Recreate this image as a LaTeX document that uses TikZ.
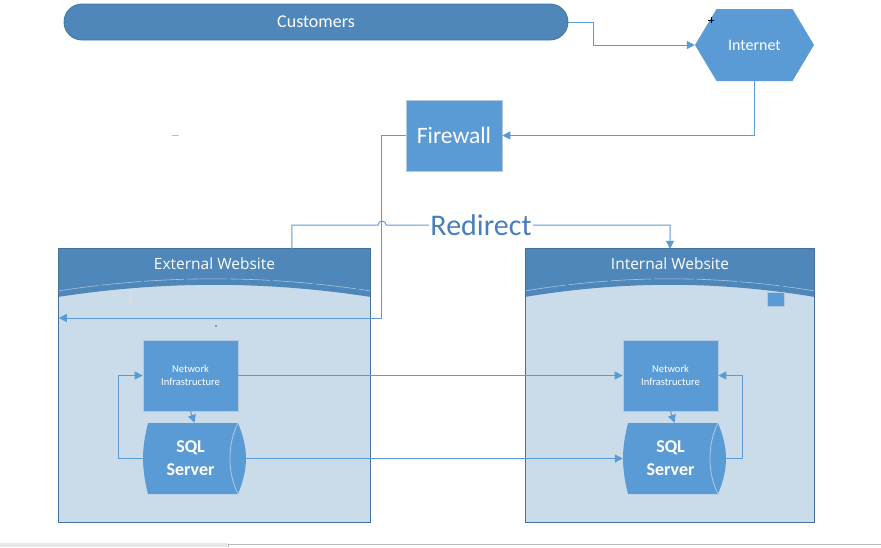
\documentclass[tikz,border=0pt]{standalone}
\usepackage{fontspec}
\setmainfont{Carlito}
\newfontfamily\segoe{Open Sans}
\usetikzlibrary{arrows.meta}
\definecolor{shapeblue}{HTML}{5B9BD5}
\definecolor{headblue}{HTML}{4F87BA}
\definecolor{borderdark}{HTML}{41719C}
\definecolor{bodyblue}{HTML}{CADBEA}
\definecolor{redirblue}{HTML}{4A7EBB}
\definecolor{lightarc}{HTML}{A7C3E0}
\definecolor{boxedge}{HTML}{B4C8DC}
\tikzset{
  conn/.style={draw=shapeblue, line width=1pt, -{Triangle[length=8pt,width=8pt]}},
  bluebox/.style={rectangle, fill=shapeblue, draw=boxedge, line width=0.6pt, text=white, align=center, inner sep=0pt},
  ghost/.style={rectangle, inner sep=0pt, text=white, align=center},
  container/.style={rectangle, fill=bodyblue, inner sep=0pt},
  headtext/.style={text=white, font=\segoe\fontsize{15.5}{18}\selectfont},
  nitext/.style={font=\fontsize{10.5}{13}\selectfont},
  sqltext/.style={font=\bfseries\fontsize{18}{23}\selectfont},
}
\begin{document}
\begin{tikzpicture}[x=1pt,y=-1pt]
\useasboundingbox (0,0) rectangle (881,547);
% bottom strip
\fill[gray!18] (0,543) rectangle (228,547);
\draw[gray!55, line width=1pt] (228,547) -- (228,544) -- (881,544);

% Customers
\node[rectangle, rounded corners=18pt, fill=headblue, draw=borderdark, line width=0.8pt,
      minimum width=504pt, minimum height=36pt, inner sep=0pt, text=white,
      font=\fontsize{18}{21}\selectfont] (cust) at (316,22) {Customers};

% Internet hexagon
\node[ghost, minimum width=119pt, minimum height=72pt] (inet) at (754.5,45) {};
\begin{scope}[shift={(inet.center)}]
  \fill[shapeblue] (-59.5,0) -- (-38,-36) -- (38,-36) -- (59.5,0) -- (38,36) -- (-38,36) -- cycle;
\end{scope}
\node[text=white, font=\fontsize{16}{19}\selectfont] (inettext) at (inet.center) {Internet};

% Firewall
\node[bluebox, minimum width=96pt, minimum height=71pt, font=\fontsize{23.5}{27}\selectfont] (fw) at (454,135.5) {Firewall};

% Containers
\node[container, minimum width=311pt, minimum height=273pt] (ext) at (214.5,385.5) {};
\node[container, minimum width=288pt, minimum height=273pt] (intw) at (670,385.5) {};
\foreach \c/\w in {ext/311, intw/288}{
  \begin{scope}[shift={(\c.north west)}]
    \fill[headblue] (0,0) -- (\w,0) -- (\w,48) .. controls (0.66*\w,32) and (0.34*\w,32) .. (0,48) -- cycle;
    \draw[lightarc, line width=0.6pt, dash pattern=on 40pt off 3pt] (0,42) .. controls (0.34*\w,26) and (0.66*\w,26) .. (\w,42);
  \end{scope}
  \draw[borderdark, line width=1pt] (\c.north west) rectangle (\c.south east);
}
\node[headtext] (exttitle) at (214.5,264) {External Website};
\node[headtext] (inttitle) at (670,264) {Internal Website};
\node[bluebox, minimum width=17pt, minimum height=14pt] (sq) at (775.5,299) {};

% Network infrastructure boxes
\node[bluebox, minimum width=95pt, minimum height=71pt, nitext] (niL) at (190.5,375.5) {Network\\Infrastructure};
\node[bluebox, minimum width=95pt, minimum height=71pt, nitext] (niR) at (670.5,375.5) {Network\\Infrastructure};

% SQL servers
\node[ghost, minimum width=103pt, minimum height=71pt] (sqlL) at (194.5,458.5) {};
\node[ghost, minimum width=103pt, minimum height=71pt] (sqlR) at (674.5,458.5) {};
\foreach \s in {sqlL, sqlR}{
  \begin{scope}[shift={(\s.center)}]
    \fill[shapeblue] (-46.5,-35.5) -- (43.5,-35.5) .. controls (48.5,-23.5) and (51.5,-11.5) .. (51.5,0)
      .. controls (51.5,11.5) and (48.5,23.5) .. (43.5,35.5) -- (-46.5,35.5)
      .. controls (-49.5,23.5) and (-51.5,11.5) .. (-51.5,0)
      .. controls (-51.5,-11.5) and (-49.5,-23.5) .. (-46.5,-35.5) -- cycle;
    \draw[boxedge, line width=0.8pt] (43.5,-35.5) .. controls (37.5,-23.5) and (35.5,-11.5) .. (35.5,0)
      .. controls (35.5,11.5) and (37.5,23.5) .. (43.5,35.5);
  \end{scope}
}
\node[text=white, align=center, sqltext] (sqlLt) at ([xshift=-4pt]sqlL.center) {SQL\\Server};
\node[text=white, align=center, sqltext] (sqlRt) at ([xshift=-4pt]sqlR.center) {SQL\\Server};

% Connectors
\draw[conn] (cust.east) -- ++(25,0) |- (inet.west);
\draw[conn] (inet.south) |- (fw.east);
\coordinate (extin) at (ext.west |- 0,318);
\draw[conn] (fw.west) -- ++(-24,0) |- (extin);
\coordinate (rdA) at ([xshift=233pt]ext.north west);
\coordinate (rdB) at (intw.north);
\draw[conn] (rdA) -- (292,225) -- (378,225) arc[start angle=180, end angle=360, radius=4] -- (rdB |- 0,225) -- (rdB);
\node[fill=white, inner sep=1pt, text=redirblue, font=\fontsize{30}{33}\selectfont] (redir) at (481,225) {Redirect};

\draw[conn] (niL.south) -- (sqlL.north);
\draw[conn] (sqlL.west) -- ++(-24,0) |- (niL.west);
\draw[conn] (niL.east) -- (niR.west);
\draw[conn] (sqlL.east) -- (sqlR.west);
\draw[conn] (niR.south) -- (sqlR.north);
\draw[conn] (sqlR.east) -- ++(16,0) |- (niR.east);

% small artifacts
\draw[gray!50, line width=0.8pt] (172,135) -- (179,135);
\draw[white!75!gray, line width=0.6pt] (130,291) -- (130,304);
\fill[borderdark!70] (215,325) rectangle (217,327);
\draw[black, line width=0.5pt] (708,20) -- (714,20) (711,17) -- (711,23);
\end{tikzpicture}
\end{document}
